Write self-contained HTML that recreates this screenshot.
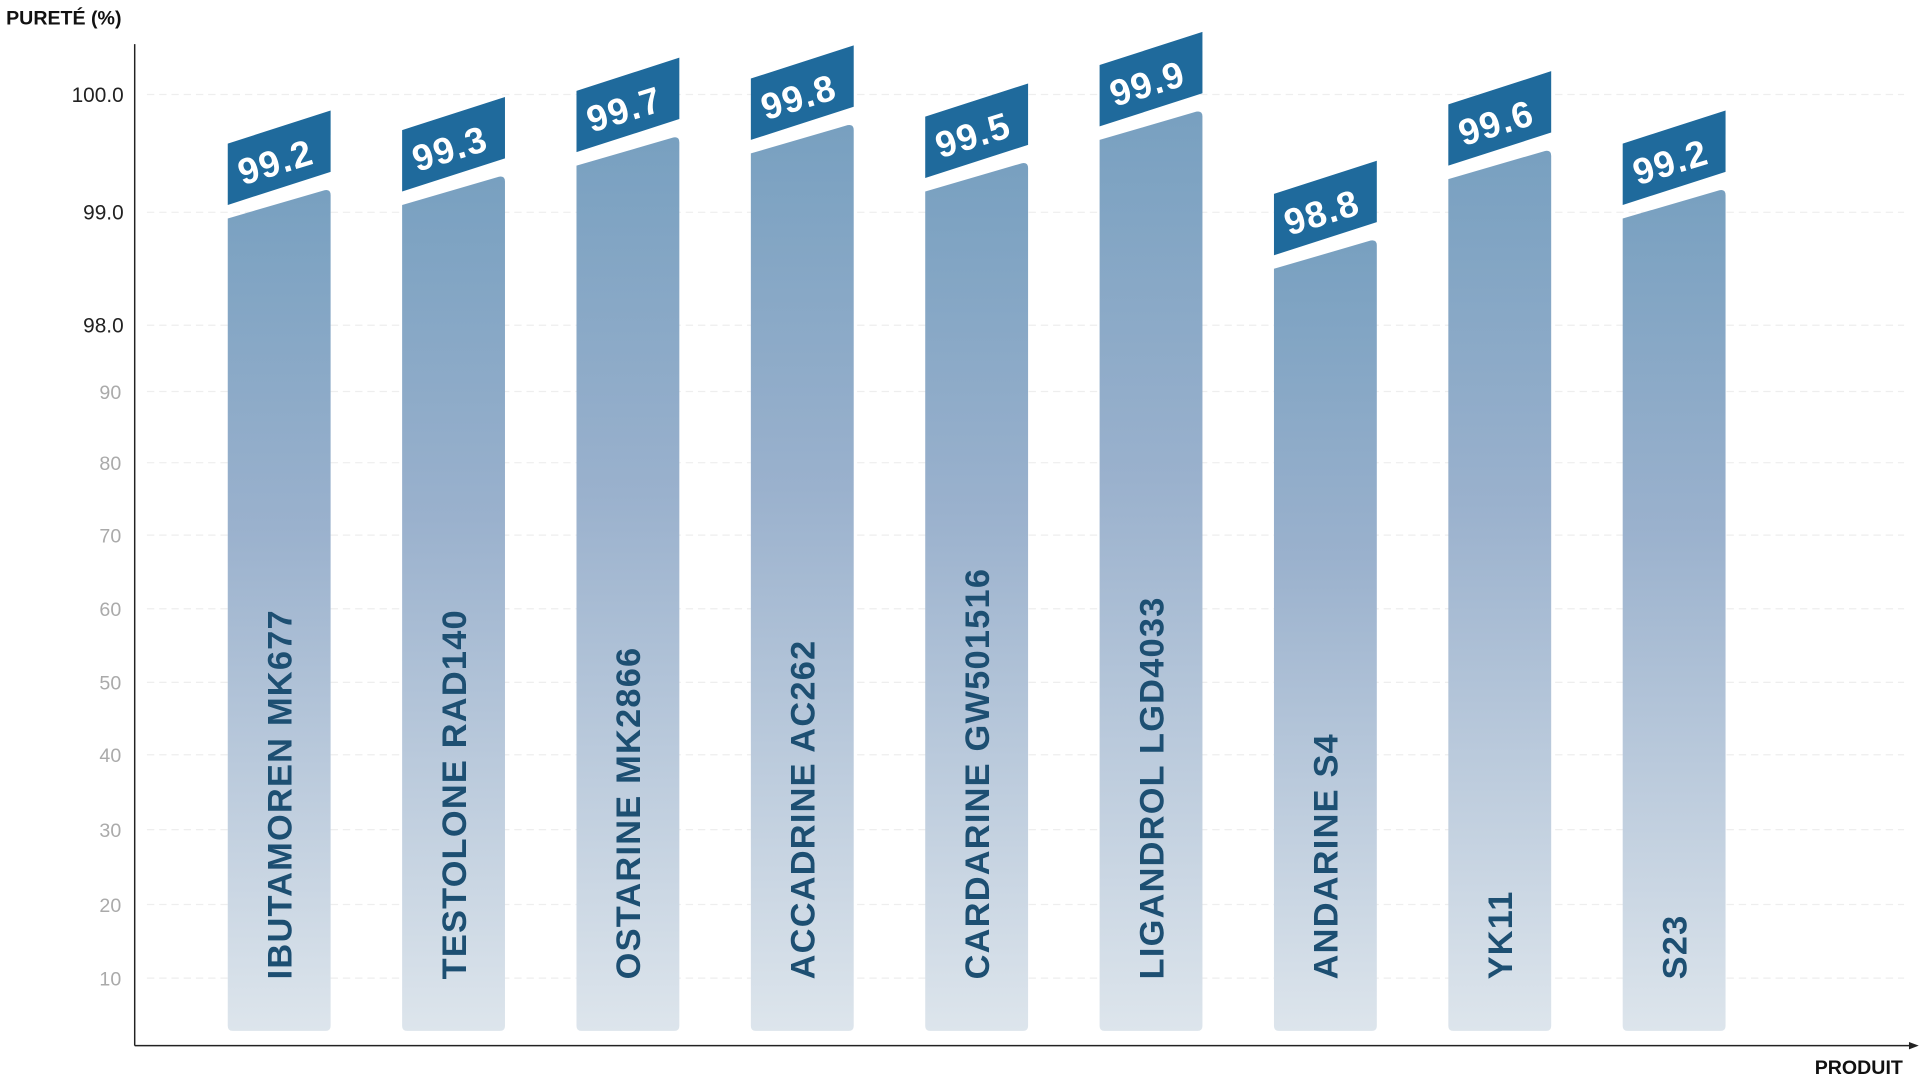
<!DOCTYPE html>
<html><head><meta charset="utf-8"><style>html,body{margin:0;padding:0;background:#fff}svg{display:block}</style></head>
<body>
<svg width="1920" height="1080" viewBox="0 0 1568 880" preserveAspectRatio="none" xmlns="http://www.w3.org/2000/svg" font-family="Liberation Sans, sans-serif">
<defs>
<linearGradient id="g" x1="0" y1="0" x2="0" y2="1">
<stop offset="0" stop-color="#78a0c0"/><stop offset="0.4" stop-color="#9ab1cd"/><stop offset="1" stop-color="#dde5ec"/>
</linearGradient>
</defs>
<text x="5" y="20" font-size="16" font-weight="bold" fill="#111">PURETÉ (%)</text>
<g stroke="#eee" stroke-width="1" stroke-dasharray="6 4">
<line x1="120" y1="77" x2="1555" y2="77"/><line x1="120" y1="173" x2="1555" y2="173"/><line x1="120" y1="265" x2="1555" y2="265"/>
<line x1="120" y1="319" x2="1555" y2="319"/><line x1="120" y1="377" x2="1555" y2="377"/><line x1="120" y1="436" x2="1555" y2="436"/>
<line x1="120" y1="496" x2="1555" y2="496"/><line x1="120" y1="556" x2="1555" y2="556"/><line x1="120" y1="615" x2="1555" y2="615"/>
<line x1="120" y1="676" x2="1555" y2="676"/><line x1="120" y1="737" x2="1555" y2="737"/><line x1="120" y1="797" x2="1555" y2="797"/>
</g>
<g font-size="17" fill="#222" text-anchor="end">
<text x="101" y="83">100.0</text><text x="101" y="179">99.0</text><text x="101" y="271">98.0</text>
</g>
<g font-size="16" fill="#aaa" text-anchor="end">
<text x="99" y="325">90</text><text x="99" y="383">80</text><text x="99" y="442">70</text><text x="99" y="502">60</text>
<text x="99" y="562">50</text><text x="99" y="621">40</text><text x="99" y="682">30</text><text x="99" y="743">20</text><text x="99" y="803">10</text>
</g>
<line x1="110" y1="36" x2="110" y2="852" stroke="#222" stroke-width="1.2"/>
<line x1="110" y1="852" x2="1562" y2="852" stroke="#222" stroke-width="1.2"/>
<polygon points="1567,852 1559,849 1559,855" fill="#222"/>
<text x="1554" y="875" font-size="16" font-weight="bold" fill="#111" text-anchor="end">PRODUIT</text>

<g transform="translate(186,0)">
<path d="M0 178 L79 155 Q84 154 84 159 L84 836 Q84 840 80 840 L4 840 Q0 840 0 836 Z" fill="url(#g)"/>
<polygon points="0,117 84,90 84,140 0,167" fill="#1f6a9c"/>
<text transform="translate(42,142) rotate(-17)" text-anchor="middle" font-size="30" font-weight="bold" fill="#fff" letter-spacing="1">99.2</text>
<text transform="translate(52,798) rotate(-90)" font-size="28" font-weight="bold" fill="#1d4f72" letter-spacing="1">IBUTAMOREN MK677</text>
</g>
<g transform="translate(328.4,0)">
<path d="M0 167 L79 144 Q84 143 84 148 L84 836 Q84 840 80 840 L4 840 Q0 840 0 836 Z" fill="url(#g)"/>
<polygon points="0,106 84,79 84,129 0,156" fill="#1f6a9c"/>
<text transform="translate(42,131) rotate(-17)" text-anchor="middle" font-size="30" font-weight="bold" fill="#fff" letter-spacing="1">99.3</text>
<text transform="translate(52,798) rotate(-90)" font-size="28" font-weight="bold" fill="#1d4f72" letter-spacing="1">TESTOLONE RAD140</text>
</g>
<g transform="translate(470.8,0)">
<path d="M0 135 L79 112 Q84 111 84 116 L84 836 Q84 840 80 840 L4 840 Q0 840 0 836 Z" fill="url(#g)"/>
<polygon points="0,74 84,47 84,97 0,124" fill="#1f6a9c"/>
<text transform="translate(42,99) rotate(-17)" text-anchor="middle" font-size="30" font-weight="bold" fill="#fff" letter-spacing="1">99.7</text>
<text transform="translate(52,798) rotate(-90)" font-size="28" font-weight="bold" fill="#1d4f72" letter-spacing="1">OSTARINE MK2866</text>
</g>
<g transform="translate(613.2,0)">
<path d="M0 125 L79 102 Q84 101 84 106 L84 836 Q84 840 80 840 L4 840 Q0 840 0 836 Z" fill="url(#g)"/>
<polygon points="0,64 84,37 84,87 0,114" fill="#1f6a9c"/>
<text transform="translate(42,89) rotate(-17)" text-anchor="middle" font-size="30" font-weight="bold" fill="#fff" letter-spacing="1">99.8</text>
<text transform="translate(52,798) rotate(-90)" font-size="28" font-weight="bold" fill="#1d4f72" letter-spacing="1">ACCADRINE AC262</text>
</g>
<g transform="translate(755.6,0)">
<path d="M0 156 L79 133 Q84 132 84 137 L84 836 Q84 840 80 840 L4 840 Q0 840 0 836 Z" fill="url(#g)"/>
<polygon points="0,95 84,68 84,118 0,145" fill="#1f6a9c"/>
<text transform="translate(42,120) rotate(-17)" text-anchor="middle" font-size="30" font-weight="bold" fill="#fff" letter-spacing="1">99.5</text>
<text transform="translate(52,798) rotate(-90)" font-size="28" font-weight="bold" fill="#1d4f72" letter-spacing="1">CARDARINE GW501516</text>
</g>
<g transform="translate(898,0)">
<path d="M0 114 L79 91 Q84 90 84 95 L84 836 Q84 840 80 840 L4 840 Q0 840 0 836 Z" fill="url(#g)"/>
<polygon points="0,53 84,26 84,76 0,103" fill="#1f6a9c"/>
<text transform="translate(42,78) rotate(-17)" text-anchor="middle" font-size="30" font-weight="bold" fill="#fff" letter-spacing="1">99.9</text>
<text transform="translate(52,798) rotate(-90)" font-size="28" font-weight="bold" fill="#1d4f72" letter-spacing="1">LIGANDROL LGD4033</text>
</g>
<g transform="translate(1040.4,0)">
<path d="M0 219 L79 196 Q84 195 84 200 L84 836 Q84 840 80 840 L4 840 Q0 840 0 836 Z" fill="url(#g)"/>
<polygon points="0,158 84,131 84,181 0,208" fill="#1f6a9c"/>
<text transform="translate(42,183) rotate(-17)" text-anchor="middle" font-size="30" font-weight="bold" fill="#fff" letter-spacing="1">98.8</text>
<text transform="translate(52,798) rotate(-90)" font-size="28" font-weight="bold" fill="#1d4f72" letter-spacing="1">ANDARINE S4</text>
</g>
<g transform="translate(1182.8,0)">
<path d="M0 146 L79 123 Q84 122 84 127 L84 836 Q84 840 80 840 L4 840 Q0 840 0 836 Z" fill="url(#g)"/>
<polygon points="0,85 84,58 84,108 0,135" fill="#1f6a9c"/>
<text transform="translate(42,110) rotate(-17)" text-anchor="middle" font-size="30" font-weight="bold" fill="#fff" letter-spacing="1">99.6</text>
<text transform="translate(52,798) rotate(-90)" font-size="28" font-weight="bold" fill="#1d4f72" letter-spacing="1">YK11</text>
</g>
<g transform="translate(1325.2,0)">
<path d="M0 178 L79 155 Q84 154 84 159 L84 836 Q84 840 80 840 L4 840 Q0 840 0 836 Z" fill="url(#g)"/>
<polygon points="0,117 84,90 84,140 0,167" fill="#1f6a9c"/>
<text transform="translate(42,142) rotate(-17)" text-anchor="middle" font-size="30" font-weight="bold" fill="#fff" letter-spacing="1">99.2</text>
<text transform="translate(52,798) rotate(-90)" font-size="28" font-weight="bold" fill="#1d4f72" letter-spacing="1">S23</text>
</g>
</svg>
</body></html>
